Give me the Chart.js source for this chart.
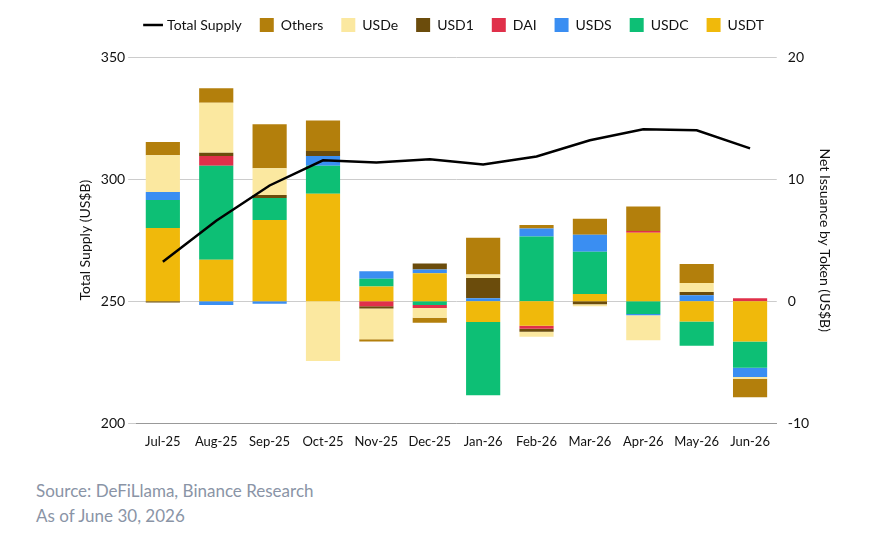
<!DOCTYPE html>
<html>
<head>
<meta charset="utf-8">
<script src="https://cdn.jsdelivr.net/npm/chart.js@4"></script>
<style>
  body { margin: 0; background: #fff; font-family: Lato, sans-serif; }
  #wrap { position: relative; width: 887px; height: 453px; }
  .src { position: absolute; left: 36px; color: #8a94a6; font-size: 17px; font-family: Lato, sans-serif; }
</style>
</head>
<body>
<div id="wrap"><canvas id="chart"></canvas></div>
<div class="src" style="top:480px">Source: DeFiLlama, Binance Research</div>
<div class="src" style="top:505px">As of June 30, 2026</div>
<script>
const months = ['Jul-25','Aug-25','Sep-25','Oct-25','Nov-25','Dec-25','Jan-26','Feb-26','Mar-26','Apr-26','May-26','Jun-26'];
const totalSupply = [266.2, 283, 297.4, 307.7, 306.8, 308.1, 306, 309.3, 315.9, 320.4, 320, 312.6];
const usdt   = [6.0, 3.4, 6.65, 8.8, 1.2, 2.3, -1.7, -2.0, 0.6, 5.6, -1.65, -3.3];
const usdc   = [2.3, 7.7, 1.8, 2.3, 0.65, -0.3, -6.0, 5.3, 3.45, -1.05, -2.0, -2.15];
const usds   = [0.65, -0.3, -0.2, 0.8, 0.6, 0.3, 0.25, 0.65, 1.4, -0.1, 0.5, -0.75];
const dai    = [0, 0.8, 0, 0, -0.4, -0.25, 0, -0.25, 0, 0.15, 0, 0.25];
const usd1   = [-0.1, 0.25, 0.25, 0.4, -0.2, 0.5, 1.65, -0.25, -0.25, 0, 0.25, 0];
const usde   = [3.0, 4.1, 2.2, -4.9, -2.5, -0.8, 0.3, -0.4, -0.15, -2.05, 0.75, -0.15];
const others = [1.1, 1.2, 3.6, 2.5, -0.2, -0.4, 3.0, 0.3, 1.3, 2.0, 1.55, -1.5];

function bar(label, data, color) {
  return { type: 'bar', label, data, backgroundColor: color, yAxisID: 'y1', stack: 's',
    pointStyle: 'rect', order: 2, categoryPercentage: 0.64, barPercentage: 1 };
}

// extra room below the legend
const legendGap = {
  id: 'legendGap',
  beforeInit(chart) {
    const fit = chart.legend.fit;
    chart.legend.fit = function () { fit.bind(chart.legend)(); this.height += 15; };
  }
};

new Chart(document.getElementById('chart'), {
  data: {
    labels: months,
    datasets: [
      bar('USDT', usdt, '#f0b90b'),
      bar('USDC', usdc, '#0dbf75'),
      bar('USDS', usds, '#3a8ef2'),
      bar('DAI', dai, '#e0304a'),
      bar('USD1', usd1, '#6b4c0c'),
      bar('USDe', usde, '#fbe8a0'),
      bar('Others', others, '#b37f0c'),
      { type: 'line', label: 'Total Supply', data: totalSupply, yAxisID: 'y', borderColor: '#000',
        backgroundColor: '#000', borderWidth: 2.5, pointRadius: 0, pointStyle: 'line', order: 1, tension: 0 }
    ]
  },
  options: {
    responsive: true,
    maintainAspectRatio: false,
    animation: false,
    layout: { padding: { left: 73, right: 50, top: 0 } },
    plugins: {
      legend: {
        labels: {
          usePointStyle: true, boxWidth: 14, boxHeight: 14, padding: 18, color: '#111',
          font: { size: 14, family: 'Lato' },
          sort: (a, b) => (b.datasetIndex === 7 ? 1 : a.datasetIndex === 7 ? -1 : b.datasetIndex - a.datasetIndex)
        }
      },
      tooltip: { enabled: false }
    },
    scales: {
      x: { stacked: true, grid: { display: false }, border: { color: '#999' },
        ticks: { color: '#111', maxRotation: 0, autoSkip: false, font: { size: 13, family: 'Lato' } } },
      y: { position: 'left', min: 200, max: 350, grid: { color: '#ccc' }, border: { display: false },
        ticks: { stepSize: 50, color: '#111', font: { size: 14, family: 'Lato' } },
        title: { display: true, text: 'Total Supply (US$B)', color: '#111', font: { size: 14, family: 'Lato' } } },
      y1: { position: 'right', stacked: true, min: -10, max: 20, grid: { display: false }, border: { display: false },
        ticks: { stepSize: 10, color: '#111', font: { size: 14, family: 'Lato' } },
        title: { display: true, text: 'Net Issuance by Token (US$B)', color: '#111', font: { size: 14, family: 'Lato' } } }
    }
  },
  plugins: [legendGap]
});
</script>
</body>
</html>
